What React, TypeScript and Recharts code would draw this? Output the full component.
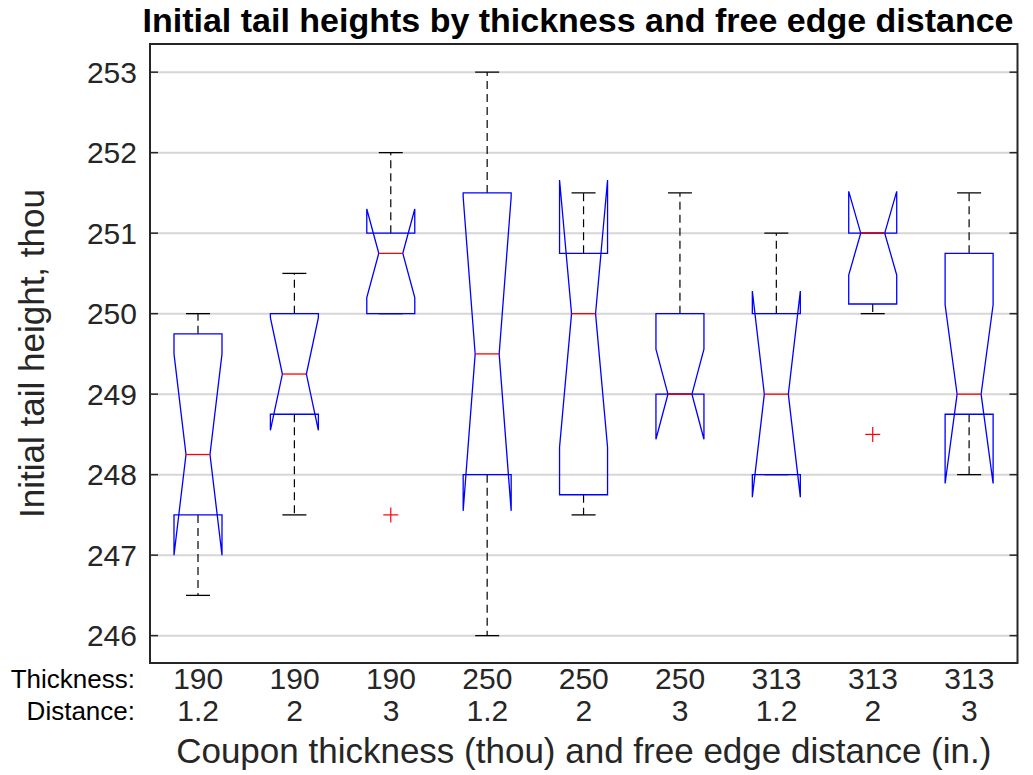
import React from 'react';
import { ComposedChart, Bar, Line, XAxis, YAxis, CartesianGrid, ReferenceArea } from 'recharts';

// ---- data ----
const thickness = ['190', '190', '190', '250', '250', '250', '313', '313', '313'];
const distance = ['1.2', '2', '3', '1.2', '2', '3', '1.2', '2', '3'];
const whiskerLow = [246.5, 247.5, 250, 246, 247.5, 249, 248, 250, 248];
const q1 = [247.5, 248.75, 250, 248, 247.75, 249, 248, 250.12, 248.75];
const median = [248.25, 249.25, 250.75, 249.5, 250, 249, 249, 251, 249];
const q3 = [249.75, 250, 251, 251.5, 250.75, 250, 250, 251, 250.75];
const whiskerHigh = [250, 250.5, 252, 253, 251.5, 251.5, 251, 251, 251.5];
const notchLow = [247.0, 248.55, 250.2, 247.55, 248.34, 248.44, 247.72, 250.48, 247.89];
const notchHigh = [249.5, 249.95, 251.3, 251.45, 251.66, 249.56, 250.28, 251.52, 250.11];
const outliers: number[][] = [[], [], [247.5], [], [], [], [], [248.5], []];
const yTicks = [246, 247, 248, 249, 250, 251, 252, 253];
const yDomain = [245.66, 253.35];

const FONT = '"Liberation Sans", Arial, Helvetica, sans-serif';
const AX = '#262626';

const rows = thickness.map((t, i) => {
  const outs = outliers[i];
  const lo = Math.min(whiskerLow[i], notchLow[i], q1[i], ...outs);
  const hi = Math.max(whiskerHigh[i], notchHigh[i], q3[i], ...outs);
  return {
    key: `${t}|${distance[i]}`,
    thickness: t,
    distance: distance[i],
    wLo: whiskerLow[i],
    q1: q1[i],
    med: median[i],
    q3: q3[i],
    wHi: whiskerHigh[i],
    nLo: notchLow[i],
    nHi: notchHigh[i],
    outs,
    range: [lo, hi],
  };
});

const BoxShape = (props: any) => {
  const { x, y, width, height, payload } = props;
  if (!payload) return null;
  const [lo, hi] = payload.range;
  const top = Math.min(y, y + height);
  const bot = Math.max(y, y + height);
  const py = (v: number) => bot - ((v - lo) / (hi - lo)) * (bot - top);
  const cx = x + width / 2;
  const bw = width * 0.25;
  const nw = width * 0.125;
  const d = [
    `M${cx - bw},${py(payload.q3)}`,
    `L${cx - bw},${py(payload.nHi)}`,
    `L${cx - nw},${py(payload.med)}`,
    `L${cx - bw},${py(payload.nLo)}`,
    `L${cx - bw},${py(payload.q1)}`,
    `L${cx + bw},${py(payload.q1)}`,
    `L${cx + bw},${py(payload.nLo)}`,
    `L${cx + nw},${py(payload.med)}`,
    `L${cx + bw},${py(payload.nHi)}`,
    `L${cx + bw},${py(payload.q3)}`,
    'Z',
  ].join(' ');
  return (
    <g>
      <line x1={cx} x2={cx} y1={py(payload.q3)} y2={py(payload.wHi)} stroke="#000" strokeWidth={1.2} strokeDasharray="8 5" />
      <line x1={cx} x2={cx} y1={py(payload.q1)} y2={py(payload.wLo)} stroke="#000" strokeWidth={1.2} strokeDasharray="8 5" />
      <line x1={cx - nw} x2={cx + nw} y1={py(payload.wHi)} y2={py(payload.wHi)} stroke="#000" strokeWidth={1.3} />
      <line x1={cx - nw} x2={cx + nw} y1={py(payload.wLo)} y2={py(payload.wLo)} stroke="#000" strokeWidth={1.3} />
      <path d={d} fill="none" stroke="#0000ff" strokeWidth={1.3} strokeLinejoin="miter" />
      <line x1={cx - nw} x2={cx + nw} y1={py(payload.med)} y2={py(payload.med)} stroke="#ff0000" strokeWidth={1.3} />
      {payload.outs.map((o: number, k: number) => (
        <g key={k}>
          <line x1={cx - 7.5} x2={cx + 7.5} y1={py(o)} y2={py(o)} stroke="#ff0000" strokeWidth={1.2} />
          <line x1={cx} x2={cx} y1={py(o) - 7.5} y2={py(o) + 7.5} stroke="#ff0000" strokeWidth={1.2} />
        </g>
      ))}
    </g>
  );
};

const LeftTick = (props: any) => {
  const { x, y, payload } = props;
  return (
    <g>
      <line x1={x + 13} x2={x + 21} y1={y} y2={y} stroke={AX} strokeWidth={1.5} />
      <text x={x} y={y} dy={10.5} textAnchor="end" fontFamily={FONT} fontSize={30} fill={AX}>
        {payload.value}
      </text>
    </g>
  );
};

const RightTick = (props: any) => {
  const { x, y } = props;
  return <line x1={x - 8} x2={x} y1={y} y2={y} stroke={AX} strokeWidth={1.5} />;
};

const XTick = (props: any) => {
  const { x, y, payload, index } = props;
  const [t, dist] = String(payload.value).split('|');
  return (
    <g fontFamily={FONT} fill={AX}>
      <text x={x} y={y + 26} textAnchor="middle" fontSize={30} fill={AX}>{t}</text>
      <text x={x} y={y + 58} textAnchor="middle" fontSize={30} fill={AX}>{dist}</text>
      {index === 0 && (
        <>
          <text x={135} y={y + 25} textAnchor="end" fontSize={26} fill="#000">Thickness:</text>
          <text x={135} y={y + 57} textAnchor="end" fontSize={26} fill="#000">Distance:</text>
        </>
      )}
    </g>
  );
};

const XLabel = (props: any) => {
  const vb = props.viewBox;
  return (
    <text x={vb.x + vb.width / 2} y={vb.y + 100} textAnchor="middle" fontFamily={FONT} fontSize={35} fill={AX}>
      Coupon thickness (thou) and free edge distance (in.)
    </text>
  );
};

const YLabel = (props: any) => {
  const vb = props.viewBox;
  const lx = vb.x + 44;
  const ly = vb.y + vb.height / 2;
  return (
    <text x={lx} y={ly} transform={`rotate(-90, ${lx}, ${ly})`} textAnchor="middle" fontFamily={FONT} fontSize={35} fill={AX}>
      Initial tail height, thou
    </text>
  );
};

export default function App() {
  const firstKey = rows[0].key;
  const lastKey = rows[rows.length - 1].key;
  return (
    <div style={{ position: 'absolute', left: 0, top: 0, width: 1033, height: 775, background: '#fff' }}>
      <svg width={1033} height={44} style={{ position: 'absolute', left: 0, top: 0 }}>
        <text x={578} y={32} textAnchor="middle" fontFamily={FONT} fontWeight="bold" fontSize={34} fill="#000">
          Initial tail heights by thickness and free edge distance
        </text>
      </svg>
      <div style={{ position: 'absolute', left: 0, top: 0 }}>
        <ComposedChart
          width={1033}
          height={775}
          data={rows}
          margin={{ top: 44, right: 0, bottom: 0, left: 0 }}
          barCategoryGap={0}
          barGap={0}
        >
          <CartesianGrid yAxisId="left" vertical={false} horizontal stroke="#d6d6d6" strokeWidth={2} />
          <XAxis
            dataKey="key"
            type="category"
            height={112}
            interval={0}
            tickLine={false}
            axisLine={false}
            tickSize={0}
            tickMargin={0}
            tick={<XTick />}
            label={<XLabel />}
          />
          <YAxis
            yAxisId="left"
            type="number"
            domain={yDomain}
            ticks={yTicks}
            allowDataOverflow
            width={150}
            tickLine={false}
            axisLine={false}
            tickSize={0}
            tickMargin={13}
            tick={<LeftTick />}
            label={<YLabel />}
          />
          <YAxis
            yAxisId="right"
            orientation="right"
            type="number"
            domain={yDomain}
            ticks={yTicks}
            allowDataOverflow
            width={15.5}
            tickLine={false}
            axisLine={false}
            tickSize={0}
            tickMargin={0}
            tick={<RightTick />}
          />
          <Line
            yAxisId="right"
            dataKey="med"
            stroke="none"
            dot={false}
            activeDot={false}
            isAnimationActive={false}
            legendType="none"
          />
          <Bar yAxisId="left" dataKey="range" shape={<BoxShape />} isAnimationActive={false} />
          <ReferenceArea
            yAxisId="left"
            x1={firstKey}
            x2={lastKey}
            y1={yDomain[0]}
            y2={yDomain[1]}
            fill="none"
            fillOpacity={0}
            stroke={AX}
            strokeWidth={2}
            ifOverflow="visible"
          />
        </ComposedChart>
      </div>
    </div>
  );
}
